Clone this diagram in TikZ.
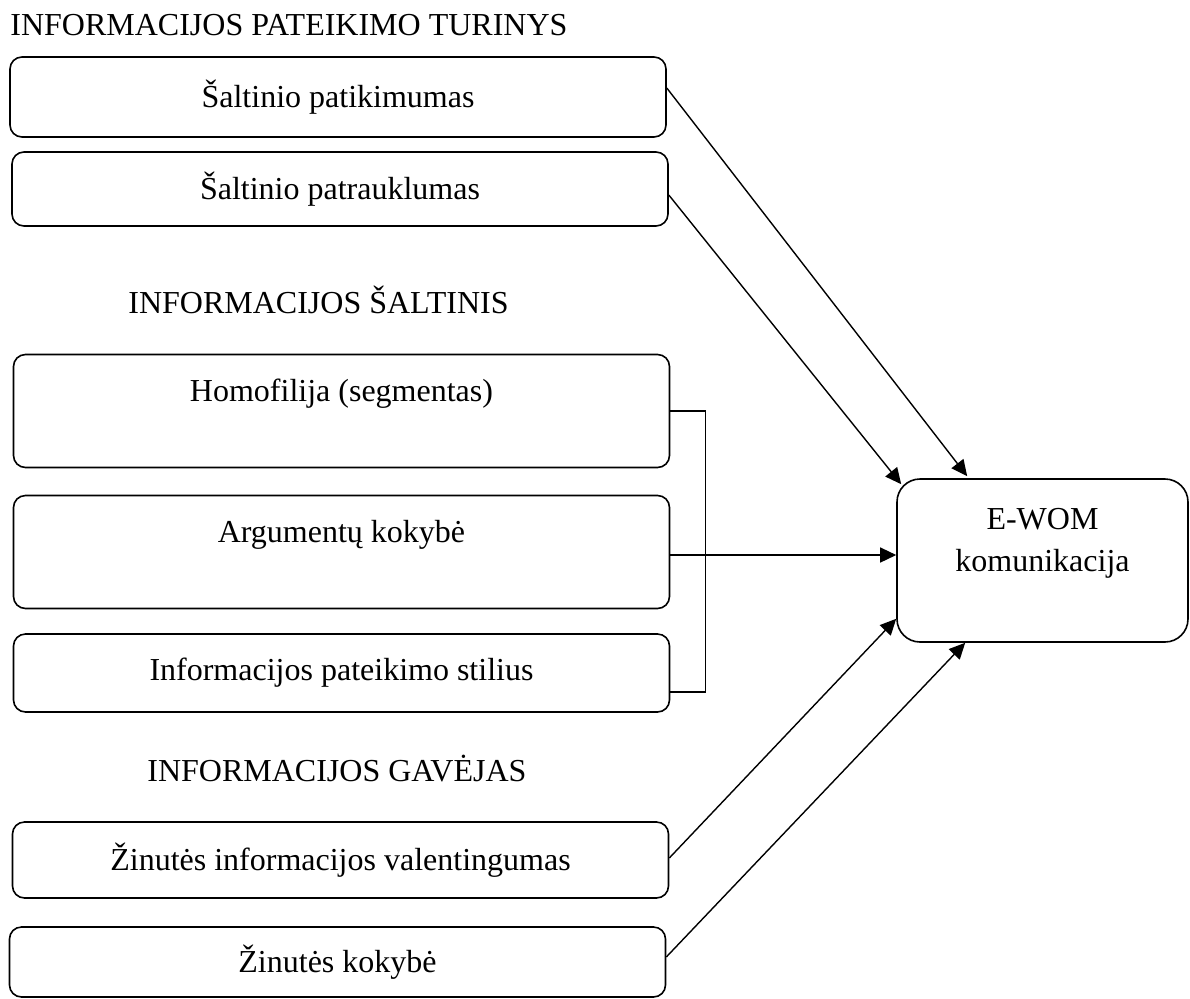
\documentclass[tikz,border=0pt]{standalone}
\usepackage{fontspec}
\setmainfont{Liberation Serif}
\usetikzlibrary{arrows.meta}
\tikzstyle{factor} = [rectangle, rounded corners=6pt, minimum width=328pt, minimum height=37pt, text centered, draw=black, line width=0.8pt, font=\fontsize{16}{19}\selectfont]
\tikzstyle{tallfactor} = [factor, minimum height=56.5pt, text depth=21pt]
\tikzstyle{result} = [rectangle, rounded corners=11.5pt, minimum width=145.5pt, minimum height=81.5pt, align=center, draw=black, line width=0.8pt, font=\fontsize{16}{21}\selectfont]
\tikzstyle{group} = [anchor=base west, inner sep=0pt, font=\fontsize{16}{19}\selectfont]
\tikzstyle{arrow} = [-{Triangle[length=8pt,width=7.5pt]}, line width=0.7pt]

\begin{document}
\begin{tikzpicture}[x=0.5pt, y=0.5pt, node distance=46pt]
	\useasboundingbox (0,0) rectangle (1190,-998);
	\node (turinys) [group] at (10,-35) {INFORMACIJOS PATEIKIMO TURINYS};
	\node (src1) [factor, minimum height=40pt] at (338,-97) {Šaltinio patikimumas};
	\node (src2) [factor, below of=src1, xshift=1pt] {Šaltinio patrauklumas};
	
	\node (saltinis) [group] at (128,-313) {INFORMACIJOS ŠALTINIS};
	\node (homo) [tallfactor, below of=src2, yshift=-65pt, xshift=0.75pt] {Homofilija (segmentas)};
	\node (arg) [tallfactor, below of=homo, yshift=-24.5pt] {Argumentų kokybė};
	\node (stil) [factor, minimum height=39pt, below of=arg, yshift=-14.5pt] {Informacijos pateikimo stilius};
	
	\node (gavejas) [group] at (147,-781) {INFORMACIJOS GAVĖJAS};
	\node (val) [factor, minimum height=38pt, below of=stil, yshift=-47.5pt, xshift=-0.5pt] {Žinutės informacijos valentingumas};
	\node (kok) [factor, minimum height=35pt, below of=val, yshift=-5pt, xshift=-1.5pt] {Žinutės kokybė};
	
	\node (ewom) [result] at (1042.5,-560.5) {E-WOM\\komunikacija\\~};
	\draw [arrow]([yshift=4.5pt]src1.east) -- ([xshift=35.5pt,yshift=1pt]ewom.north west);
	\draw [arrow]([yshift=-3pt]src2.east) -- ([xshift=2.5pt,yshift=-3pt]ewom.north west);
	\draw [line width=0.7pt](homo.east) -- ++(17.5pt,0) |- ([yshift=-9.5pt]stil.east);
	\draw [arrow]([yshift=-1.5pt]arg.east) -- ([yshift=-1.5pt]arg.east -| ewom.west);
	\draw [arrow]([yshift=1pt]val.east) -- ([yshift=12pt]ewom.south west);
	\draw [arrow]([yshift=2.5pt]kok.east) -- ([xshift=34.5pt]ewom.south west);
\end{tikzpicture}
\end{document}
